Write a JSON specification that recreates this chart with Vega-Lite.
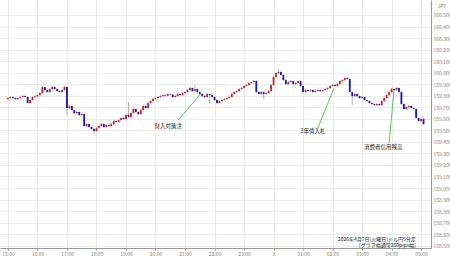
{
"$schema":"https://vega.github.io/schema/vega-lite/v6.json",
"width":431,"height":248,
"autosize":{"type":"none"},
"padding":{"left":0,"top":0,"right":19,"bottom":10},
"config":{"view":{"stroke":null},"font":"Noto Sans CJK JP","axis":{"labelOverlap":false,"labelFlush":false}},
"datasets":{
"k":[
{"t":"2026-04-07T15:00","o":159.772,"h":159.788,"l":159.766,"c":159.780},
{"t":"2026-04-07T15:05","o":159.780,"h":159.797,"l":159.774,"c":159.789},
{"t":"2026-04-07T15:10","o":159.789,"h":159.795,"l":159.773,"c":159.780},
{"t":"2026-04-07T15:15","o":159.780,"h":159.786,"l":159.764,"c":159.771},
{"t":"2026-04-07T15:20","o":159.771,"h":159.787,"l":159.766,"c":159.780},
{"t":"2026-04-07T15:25","o":159.780,"h":159.796,"l":159.775,"c":159.789},
{"t":"2026-04-07T15:30","o":159.789,"h":159.806,"l":159.783,"c":159.797},
{"t":"2026-04-07T15:35","o":159.797,"h":159.803,"l":159.782,"c":159.789},
{"t":"2026-04-07T15:40","o":159.789,"h":159.795,"l":159.730,"c":159.737},
{"t":"2026-04-07T15:45","o":159.737,"h":159.770,"l":159.732,"c":159.763},
{"t":"2026-04-07T15:50","o":159.763,"h":159.795,"l":159.757,"c":159.789},
{"t":"2026-04-07T15:55","o":159.789,"h":159.803,"l":159.781,"c":159.795},
{"t":"2026-04-07T16:00","o":159.795,"h":159.814,"l":159.788,"c":159.806},
{"t":"2026-04-07T16:05","o":159.806,"h":159.830,"l":159.800,"c":159.823},
{"t":"2026-04-07T16:10","o":159.823,"h":159.884,"l":159.818,"c":159.875},
{"t":"2026-04-07T16:15","o":159.875,"h":159.880,"l":159.842,"c":159.849},
{"t":"2026-04-07T16:20","o":159.849,"h":159.855,"l":159.825,"c":159.832},
{"t":"2026-04-07T16:25","o":159.832,"h":159.865,"l":159.827,"c":159.858},
{"t":"2026-04-07T16:30","o":159.858,"h":159.886,"l":159.852,"c":159.875},
{"t":"2026-04-07T16:35","o":159.875,"h":159.881,"l":159.851,"c":159.858},
{"t":"2026-04-07T16:40","o":159.858,"h":159.863,"l":159.835,"c":159.841},
{"t":"2026-04-07T16:45","o":159.841,"h":159.847,"l":159.825,"c":159.832},
{"t":"2026-04-07T16:50","o":159.832,"h":159.856,"l":159.826,"c":159.849},
{"t":"2026-04-07T16:55","o":159.849,"h":159.882,"l":159.844,"c":159.875},
{"t":"2026-04-07T17:00","o":159.875,"h":159.880,"l":159.633,"c":159.693},
{"t":"2026-04-07T17:05","o":159.693,"h":159.720,"l":159.684,"c":159.711},
{"t":"2026-04-07T17:10","o":159.711,"h":159.717,"l":159.668,"c":159.676},
{"t":"2026-04-07T17:15","o":159.676,"h":159.682,"l":159.643,"c":159.650},
{"t":"2026-04-07T17:20","o":159.650,"h":159.667,"l":159.644,"c":159.659},
{"t":"2026-04-07T17:25","o":159.659,"h":159.665,"l":159.626,"c":159.633},
{"t":"2026-04-07T17:30","o":159.633,"h":159.649,"l":159.627,"c":159.641},
{"t":"2026-04-07T17:35","o":159.641,"h":159.647,"l":159.530,"c":159.537},
{"t":"2026-04-07T17:40","o":159.537,"h":159.563,"l":159.531,"c":159.555},
{"t":"2026-04-07T17:45","o":159.555,"h":159.561,"l":159.522,"c":159.529},
{"t":"2026-04-07T17:50","o":159.529,"h":159.535,"l":159.503,"c":159.511},
{"t":"2026-04-07T17:55","o":159.511,"h":159.517,"l":159.477,"c":159.494},
{"t":"2026-04-07T18:00","o":159.494,"h":159.527,"l":159.488,"c":159.520},
{"t":"2026-04-07T18:05","o":159.520,"h":159.545,"l":159.514,"c":159.537},
{"t":"2026-04-07T18:10","o":159.537,"h":159.562,"l":159.531,"c":159.555},
{"t":"2026-04-07T18:15","o":159.555,"h":159.560,"l":159.522,"c":159.529},
{"t":"2026-04-07T18:20","o":159.529,"h":159.553,"l":159.523,"c":159.546},
{"t":"2026-04-07T18:25","o":159.546,"h":159.552,"l":159.530,"c":159.537},
{"t":"2026-04-07T18:30","o":159.537,"h":159.562,"l":159.531,"c":159.555},
{"t":"2026-04-07T18:35","o":159.555,"h":159.588,"l":159.549,"c":159.581},
{"t":"2026-04-07T18:40","o":159.581,"h":159.587,"l":159.565,"c":159.572},
{"t":"2026-04-07T18:45","o":159.572,"h":159.597,"l":159.566,"c":159.589},
{"t":"2026-04-07T18:50","o":159.589,"h":159.615,"l":159.583,"c":159.607},
{"t":"2026-04-07T18:55","o":159.607,"h":159.613,"l":159.591,"c":159.598},
{"t":"2026-04-07T19:00","o":159.598,"h":159.640,"l":159.592,"c":159.633},
{"t":"2026-04-07T19:05","o":159.633,"h":159.745,"l":159.608,"c":159.615},
{"t":"2026-04-07T19:10","o":159.615,"h":159.658,"l":159.609,"c":159.650},
{"t":"2026-04-07T19:15","o":159.650,"h":159.693,"l":159.644,"c":159.685},
{"t":"2026-04-07T19:20","o":159.685,"h":159.690,"l":159.652,"c":159.659},
{"t":"2026-04-07T19:25","o":159.659,"h":159.665,"l":159.634,"c":159.641},
{"t":"2026-04-07T19:30","o":159.641,"h":159.684,"l":159.635,"c":159.676},
{"t":"2026-04-07T19:35","o":159.676,"h":159.719,"l":159.670,"c":159.711},
{"t":"2026-04-07T19:40","o":159.711,"h":159.716,"l":159.686,"c":159.693},
{"t":"2026-04-07T19:45","o":159.693,"h":159.745,"l":159.688,"c":159.737},
{"t":"2026-04-07T19:50","o":159.737,"h":159.762,"l":159.731,"c":159.754},
{"t":"2026-04-07T19:55","o":159.754,"h":159.779,"l":159.748,"c":159.771},
{"t":"2026-04-07T20:00","o":159.771,"h":159.788,"l":159.765,"c":159.780},
{"t":"2026-04-07T20:05","o":159.780,"h":159.797,"l":159.774,"c":159.789},
{"t":"2026-04-07T20:10","o":159.789,"h":159.806,"l":159.783,"c":159.797},
{"t":"2026-04-07T20:15","o":159.797,"h":159.814,"l":159.791,"c":159.806},
{"t":"2026-04-07T20:20","o":159.806,"h":159.812,"l":159.793,"c":159.800},
{"t":"2026-04-07T20:25","o":159.800,"h":159.823,"l":159.795,"c":159.815},
{"t":"2026-04-07T20:30","o":159.815,"h":159.821,"l":159.803,"c":159.810},
{"t":"2026-04-07T20:35","o":159.810,"h":159.815,"l":159.782,"c":159.789},
{"t":"2026-04-07T20:40","o":159.789,"h":159.805,"l":159.783,"c":159.797},
{"t":"2026-04-07T20:45","o":159.797,"h":159.822,"l":159.791,"c":159.815},
{"t":"2026-04-07T20:50","o":159.815,"h":159.821,"l":159.799,"c":159.806},
{"t":"2026-04-07T20:55","o":159.806,"h":159.830,"l":159.800,"c":159.823},
{"t":"2026-04-07T21:00","o":159.823,"h":159.840,"l":159.817,"c":159.832},
{"t":"2026-04-07T21:05","o":159.832,"h":159.857,"l":159.826,"c":159.849},
{"t":"2026-04-07T21:10","o":159.849,"h":159.875,"l":159.843,"c":159.867},
{"t":"2026-04-07T21:15","o":159.867,"h":159.872,"l":159.834,"c":159.841},
{"t":"2026-04-07T21:20","o":159.841,"h":159.893,"l":159.835,"c":159.858},
{"t":"2026-04-07T21:25","o":159.858,"h":159.863,"l":159.825,"c":159.832},
{"t":"2026-04-07T21:30","o":159.832,"h":159.838,"l":159.808,"c":159.815},
{"t":"2026-04-07T21:35","o":159.815,"h":159.821,"l":159.790,"c":159.797},
{"t":"2026-04-07T21:40","o":159.797,"h":159.803,"l":159.782,"c":159.789},
{"t":"2026-04-07T21:45","o":159.789,"h":159.822,"l":159.783,"c":159.815},
{"t":"2026-04-07T21:50","o":159.815,"h":159.820,"l":159.737,"c":159.806},
{"t":"2026-04-07T21:55","o":159.806,"h":159.812,"l":159.782,"c":159.789},
{"t":"2026-04-07T22:00","o":159.789,"h":159.795,"l":159.756,"c":159.763},
{"t":"2026-04-07T22:05","o":159.763,"h":159.769,"l":159.730,"c":159.737},
{"t":"2026-04-07T22:10","o":159.737,"h":159.762,"l":159.731,"c":159.754},
{"t":"2026-04-07T22:15","o":159.754,"h":159.771,"l":159.748,"c":159.763},
{"t":"2026-04-07T22:20","o":159.763,"h":159.779,"l":159.757,"c":159.771},
{"t":"2026-04-07T22:25","o":159.771,"h":159.788,"l":159.765,"c":159.780},
{"t":"2026-04-07T22:30","o":159.780,"h":159.797,"l":159.774,"c":159.789},
{"t":"2026-04-07T22:35","o":159.789,"h":159.823,"l":159.783,"c":159.815},
{"t":"2026-04-07T22:40","o":159.815,"h":159.840,"l":159.809,"c":159.832},
{"t":"2026-04-07T22:45","o":159.832,"h":159.849,"l":159.826,"c":159.841},
{"t":"2026-04-07T22:50","o":159.841,"h":159.866,"l":159.835,"c":159.858},
{"t":"2026-04-07T22:55","o":159.858,"h":159.875,"l":159.852,"c":159.867},
{"t":"2026-04-07T23:00","o":159.867,"h":159.892,"l":159.861,"c":159.884},
{"t":"2026-04-07T23:05","o":159.884,"h":159.901,"l":159.878,"c":159.893},
{"t":"2026-04-07T23:10","o":159.893,"h":159.918,"l":159.887,"c":159.910},
{"t":"2026-04-07T23:15","o":159.910,"h":159.927,"l":159.904,"c":159.919},
{"t":"2026-04-07T23:20","o":159.919,"h":159.936,"l":159.913,"c":159.927},
{"t":"2026-04-07T23:25","o":159.927,"h":159.933,"l":159.825,"c":159.832},
{"t":"2026-04-07T23:30","o":159.832,"h":159.838,"l":159.808,"c":159.815},
{"t":"2026-04-07T23:35","o":159.815,"h":159.840,"l":159.809,"c":159.832},
{"t":"2026-04-07T23:40","o":159.832,"h":159.838,"l":159.771,"c":159.815},
{"t":"2026-04-07T23:45","o":159.815,"h":159.831,"l":159.809,"c":159.823},
{"t":"2026-04-07T23:50","o":159.823,"h":159.849,"l":159.817,"c":159.841},
{"t":"2026-04-07T23:55","o":159.841,"h":159.901,"l":159.835,"c":159.893},
{"t":"2026-04-08T00:00","o":159.893,"h":159.970,"l":159.887,"c":159.962},
{"t":"2026-04-08T00:05","o":159.962,"h":160.005,"l":159.956,"c":159.997},
{"t":"2026-04-08T00:10","o":159.997,"h":160.023,"l":159.990,"c":160.006},
{"t":"2026-04-08T00:15","o":160.006,"h":160.012,"l":159.973,"c":159.980},
{"t":"2026-04-08T00:20","o":159.980,"h":159.986,"l":159.929,"c":159.936},
{"t":"2026-04-08T00:25","o":159.936,"h":159.942,"l":159.894,"c":159.901},
{"t":"2026-04-08T00:30","o":159.901,"h":159.927,"l":159.895,"c":159.919},
{"t":"2026-04-08T00:35","o":159.919,"h":159.936,"l":159.913,"c":159.927},
{"t":"2026-04-08T00:40","o":159.927,"h":159.933,"l":159.894,"c":159.901},
{"t":"2026-04-08T00:45","o":159.901,"h":159.918,"l":159.895,"c":159.910},
{"t":"2026-04-08T00:50","o":159.910,"h":159.935,"l":159.904,"c":159.927},
{"t":"2026-04-08T00:55","o":159.927,"h":159.933,"l":159.877,"c":159.884},
{"t":"2026-04-08T01:00","o":159.884,"h":159.890,"l":159.825,"c":159.832},
{"t":"2026-04-08T01:05","o":159.832,"h":159.857,"l":159.826,"c":159.849},
{"t":"2026-04-08T01:10","o":159.849,"h":159.855,"l":159.834,"c":159.841},
{"t":"2026-04-08T01:15","o":159.841,"h":159.857,"l":159.835,"c":159.849},
{"t":"2026-04-08T01:20","o":159.849,"h":159.855,"l":159.825,"c":159.832},
{"t":"2026-04-08T01:25","o":159.832,"h":159.849,"l":159.826,"c":159.841},
{"t":"2026-04-08T01:30","o":159.841,"h":159.857,"l":159.835,"c":159.849},
{"t":"2026-04-08T01:35","o":159.849,"h":159.855,"l":159.834,"c":159.841},
{"t":"2026-04-08T01:40","o":159.841,"h":159.857,"l":159.835,"c":159.849},
{"t":"2026-04-08T01:45","o":159.849,"h":159.866,"l":159.843,"c":159.858},
{"t":"2026-04-08T01:50","o":159.858,"h":159.875,"l":159.852,"c":159.867},
{"t":"2026-04-08T01:55","o":159.867,"h":159.892,"l":159.861,"c":159.884},
{"t":"2026-04-08T02:00","o":159.884,"h":159.901,"l":159.878,"c":159.893},
{"t":"2026-04-08T02:05","o":159.893,"h":159.899,"l":159.877,"c":159.884},
{"t":"2026-04-08T02:10","o":159.884,"h":159.909,"l":159.878,"c":159.901},
{"t":"2026-04-08T02:15","o":159.901,"h":159.935,"l":159.895,"c":159.927},
{"t":"2026-04-08T02:20","o":159.927,"h":159.944,"l":159.921,"c":159.936},
{"t":"2026-04-08T02:25","o":159.936,"h":159.961,"l":159.930,"c":159.953},
{"t":"2026-04-08T02:30","o":159.953,"h":159.960,"l":159.938,"c":159.945},
{"t":"2026-04-08T02:35","o":159.945,"h":159.951,"l":159.825,"c":159.832},
{"t":"2026-04-08T02:40","o":159.832,"h":159.838,"l":159.719,"c":159.797},
{"t":"2026-04-08T02:45","o":159.797,"h":159.823,"l":159.791,"c":159.815},
{"t":"2026-04-08T02:50","o":159.815,"h":159.821,"l":159.790,"c":159.797},
{"t":"2026-04-08T02:55","o":159.797,"h":159.803,"l":159.773,"c":159.780},
{"t":"2026-04-08T03:00","o":159.780,"h":159.797,"l":159.774,"c":159.789},
{"t":"2026-04-08T03:05","o":159.789,"h":159.795,"l":159.756,"c":159.763},
{"t":"2026-04-08T03:10","o":159.763,"h":159.769,"l":159.747,"c":159.754},
{"t":"2026-04-08T03:15","o":159.754,"h":159.760,"l":159.730,"c":159.737},
{"t":"2026-04-08T03:20","o":159.737,"h":159.743,"l":159.721,"c":159.728},
{"t":"2026-04-08T03:25","o":159.728,"h":159.734,"l":159.712,"c":159.719},
{"t":"2026-04-08T03:30","o":159.719,"h":159.736,"l":159.713,"c":159.728},
{"t":"2026-04-08T03:35","o":159.728,"h":159.734,"l":159.712,"c":159.719},
{"t":"2026-04-08T03:40","o":159.719,"h":159.762,"l":159.713,"c":159.754},
{"t":"2026-04-08T03:45","o":159.754,"h":159.788,"l":159.748,"c":159.780},
{"t":"2026-04-08T03:50","o":159.780,"h":159.814,"l":159.774,"c":159.806},
{"t":"2026-04-08T03:55","o":159.806,"h":159.840,"l":159.800,"c":159.832},
{"t":"2026-04-08T04:00","o":159.832,"h":159.866,"l":159.826,"c":159.858},
{"t":"2026-04-08T04:05","o":159.858,"h":159.864,"l":159.842,"c":159.849},
{"t":"2026-04-08T04:10","o":159.849,"h":159.875,"l":159.843,"c":159.867},
{"t":"2026-04-08T04:15","o":159.867,"h":159.873,"l":159.825,"c":159.832},
{"t":"2026-04-08T04:20","o":159.832,"h":159.838,"l":159.721,"c":159.728},
{"t":"2026-04-08T04:25","o":159.728,"h":159.734,"l":159.678,"c":159.685},
{"t":"2026-04-08T04:30","o":159.685,"h":159.710,"l":159.679,"c":159.702},
{"t":"2026-04-08T04:35","o":159.702,"h":159.719,"l":159.696,"c":159.711},
{"t":"2026-04-08T04:40","o":159.711,"h":159.717,"l":159.686,"c":159.693},
{"t":"2026-04-08T04:45","o":159.693,"h":159.699,"l":159.678,"c":159.685},
{"t":"2026-04-08T04:50","o":159.685,"h":159.691,"l":159.600,"c":159.607},
{"t":"2026-04-08T04:55","o":159.607,"h":159.613,"l":159.574,"c":159.581},
{"t":"2026-04-08T05:00","o":159.581,"h":159.606,"l":159.575,"c":159.598},
{"t":"2026-04-08T05:05","o":159.598,"h":159.604,"l":159.548,"c":159.555}
],
"n":[
{"t1":"2026-04-07T21:33","p1":159.823,"t2":"2026-04-07T20:46","p2":159.589,"tt":"2026-04-07T20:26","pt":159.537,"label":"財入対策注"},
{"t1":"2026-04-08T02:03","p1":159.864,"t2":"2026-04-08T01:30","p2":159.520,"tt":"2026-04-08T01:20","pt":159.490,"label":"3年債入札"},
{"t1":"2026-04-08T04:05","p1":159.855,"t2":"2026-04-08T03:55","p2":159.390,"tt":"2026-04-08T03:43","pt":159.355,"label":"消費者信用残高"}
],
"m":[
{"t":"2026-04-08T04:49","p":158.560,"label":"2026年4月7日(火曜日)ドル円5分足"},
{"t":"2026-04-08T04:49","p":158.505,"label":"[グラフ幅通常200pips幅]"}
]
},
"layer":[
{"data":{"name":"k"},"mark":{"type":"rule","color":"#9a9a9a","strokeWidth":0.8},
 "encoding":{
  "x":{"field":"t","type":"temporal","scale":{"domain":[{"year":2026,"month":4,"date":7,"hours":14,"minutes":54},{"year":2026,"month":4,"date":8,"hours":5,"minutes":10}]},
   "axis":{"orient":"bottom","title":null,"grid":true,"gridColor":"#e6e6e6","gridWidth":0.8,"tickCount":"hour",
     "labelExpr":"timeFormat(datum.value,'%H') == '00' ? timeFormat(datum.value,'%-d') : timeFormat(datum.value,'%H:%M')",
     "labelFontSize":5,"labelColor":"#808080","labelPadding":1,"tickSize":2,"tickColor":"#9a9a9a","domainColor":"#9a9a9a","labelOverlap":false,"labelFlush":false}},
  "y":{"field":"l","type":"quantitative","scale":{"domain":[158.48,160.63],"nice":false,"zero":false},
   "axis":{"orient":"right","tickCount":30,"values":[158.5,158.6,158.7,158.8,158.9,159.0,159.1,159.2,159.3,159.4,159.5,159.6,159.7,159.8,159.9,160.0,160.1,160.2,160.3,160.4,160.5],
     "format":".3f","grid":true,"gridColor":"#e6e6e6","gridWidth":0.8,"tickSize":0,"domainColor":"#9a9a9a",
     "labelFontSize":5,"labelColor":"#808080","labelPadding":2,"labelOverlap":false,"labelLimit":30,
     "title":"JPY","titleAngle":0,"titleX":6,"titleY":5,"titleAlign":"left","titleBaseline":"middle","titleFontSize":5,"titleFontWeight":"normal","titleColor":"#808080"}},
  "y2":{"field":"h"}
 }},
{"data":{"name":"k"},"mark":{"type":"bar","size":1.8},
 "encoding":{
  "x":{"field":"t","type":"temporal"},
  "y":{"field":"o","type":"quantitative"},
  "y2":{"field":"c"},
  "color":{"condition":{"test":"datum.c >= datum.o","value":"#e8141e"},"value":"#1414c8"}
 }},
{"data":{"name":"n"},"mark":{"type":"rule","color":"#3ccf3c","strokeWidth":0.9},
 "encoding":{
  "x":{"field":"t1","type":"temporal"},
  "y":{"field":"p1","type":"quantitative"},
  "x2":{"field":"t2"},"y2":{"field":"p2"}
 }},
{"data":{"name":"n"},"mark":{"type":"text","fontSize":5.5,"color":"#222222","baseline":"middle","align":"center"},
 "encoding":{
  "x":{"field":"tt","type":"temporal"},
  "y":{"field":"pt","type":"quantitative"},
  "text":{"field":"label"}
 }},
{"data":{"name":"m"},"mark":{"type":"text","fontSize":5,"color":"#222222","baseline":"middle","align":"right"},
 "encoding":{
  "x":{"field":"t","type":"temporal"},
  "y":{"field":"p","type":"quantitative"},
  "text":{"field":"label"}
 }}
]
}
